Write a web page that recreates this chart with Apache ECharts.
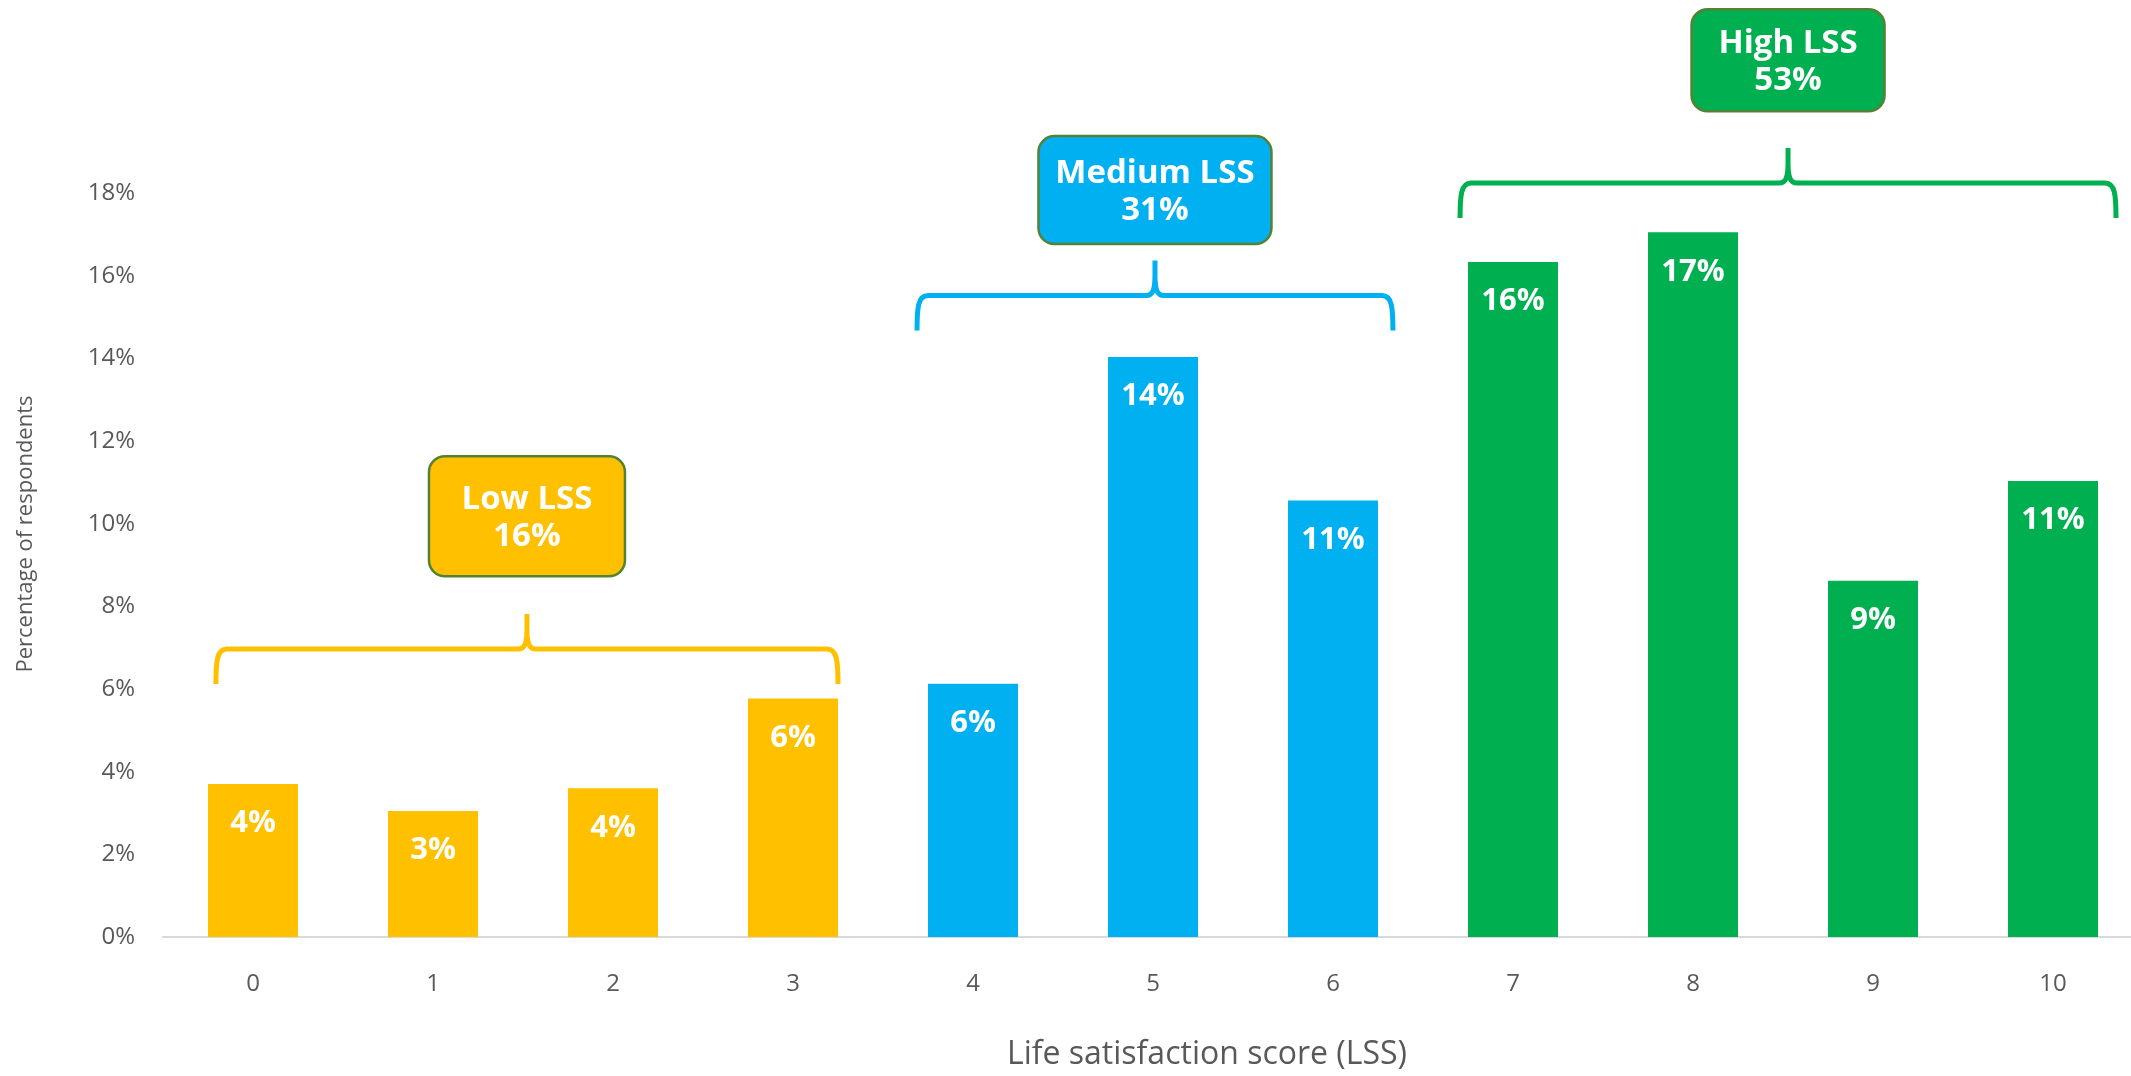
<!DOCTYPE html>
<html>
<head>
<meta charset="utf-8">
<script src="https://cdn.jsdelivr.net/npm/echarts@6/dist/echarts.min.js"></script>
<style>
html,body{margin:0;padding:0;background:#fff;overflow:hidden;}
#chart{width:2143px;height:1076px;}
</style>
</head>
<body>
<div id="chart"></div>
<script>
// ---- data ----
const categories = ['0','1','2','3','4','5','6','7','8','9','10'];
const values = [3.70, 3.05, 3.60, 5.77, 6.13, 14.03, 10.56, 16.33, 17.05, 8.62, 11.03];
const groupOfCategory = [0,0,0,0,1,1,1,2,2,2,2];
const groupNames = ['Low LSS', 'Medium LSS', 'High LSS'];
const groupShares = [16, 31, 53];
const groupStart = [0, 4, 7];
const groupEnd = [3, 6, 10];
const yTicks = [0, 2, 4, 6, 8, 10, 12, 14, 16, 18];

// ---- layout / styles (not data) ----
const groupColors = ['#FFC000', '#00B0F0', '#00B050'];
const layout = {
  braceLeft: [-0.206, -0.311, -0.294],
  braceRight: [0.25, 0.333, 0.35],
  braceLevel: [6.97, 15.52, 18.24],
  braceDrop: 35,
  braceRise: 35,
  boxLevel: [10.18, 18.07, 21.21],
  boxW: [196, 233, 193],
  boxH: [120, 108, 102]
};

const chart = echarts.init(document.getElementById('chart'), null, {renderer: 'canvas'});

const groupItems = groupNames.map((n, i) => [groupStart[i], groupEnd[i], i]);

const option = {
  backgroundColor: '#ffffff',
  animation: false,
  grid: {left: 163, top: 193, width: 1980, height: 746, containLabel: false},
  xAxis: {
    type: 'category',
    data: categories,
    axisLine: {show: true, lineStyle: {color: '#D9D9D9', width: 2}},
    axisTick: {show: false},
    axisLabel: {color: '#595959', fontFamily: 'Open Sans', fontSize: 24, margin: 35},
    name: 'Life satisfaction score (LSS)',
    nameLocation: 'middle',
    nameGap: 102,
    nameTextStyle: {color: '#595959', fontFamily: 'Open Sans', fontSize: 32, padding: [0, 0, 0, 108]}
  },
  yAxis: {
    type: 'value',
    min: yTicks[0],
    max: yTicks[yTicks.length - 1],
    interval: 2,
    splitLine: {show: false},
    axisLine: {show: false},
    axisTick: {show: false},
    axisLabel: {color: '#595959', fontFamily: 'Open Sans', fontSize: 24, margin: 28, formatter: '{value}%'},
    name: 'Percentage of respondents',
    nameLocation: 'middle',
    nameRotate: 90,
    nameGap: 126,
    nameTextStyle: {color: '#595959', fontFamily: 'Open Sans', fontSize: 22, padding: [0, 0, 0, 62]}
  },
  series: [
    {
      type: 'bar',
      barWidth: 90,
      data: values.map((v, i) => ({value: v, itemStyle: {color: groupColors[groupOfCategory[i]]}})),
      label: {
        show: true,
        position: 'insideTop',
        distance: 24,
        color: '#ffffff',
        fontFamily: 'Open Sans',
        fontWeight: 'bold',
        fontSize: 31,
        formatter: p => Math.round(p.value) + '%'
      }
    },
    {
      type: 'custom',
      clip: false,
      silent: true,
      data: groupItems,
      encode: {x: 0},
      renderItem: function (params, api) {
        const s = api.value(0), e = api.value(1), g = api.value(2);
        const step = api.size([1, 0])[0];
        const yH = api.coord([s, layout.braceLevel[g]])[1];
        const xL = api.coord([s, 0])[0] + layout.braceLeft[g] * step;
        const xR = api.coord([e, 0])[0] + layout.braceRight[g] * step;
        const xC = (xL + xR) / 2;
        const yEnd = yH + layout.braceDrop;
        const yTip = yH - layout.braceRise;
        const r = 11;
        const path =
          'M' + xL + ',' + yEnd +
          ' C' + xL + ',' + (yH + 12) + ' ' + (xL + 1) + ',' + yH + ' ' + (xL + r) + ',' + yH +
          ' L' + (xC - 9) + ',' + yH +
          ' C' + (xC - 2) + ',' + yH + ' ' + xC + ',' + (yH - 6) + ' ' + xC + ',' + (yH - 20) +
          ' L' + xC + ',' + yTip +
          ' M' + xC + ',' + (yH - 20) +
          ' C' + xC + ',' + (yH - 6) + ' ' + (xC + 2) + ',' + yH + ' ' + (xC + 9) + ',' + yH +
          ' L' + (xR - r) + ',' + yH +
          ' C' + (xR - 1) + ',' + yH + ' ' + xR + ',' + (yH + 12) + ' ' + xR + ',' + yEnd;
        const boxCY = api.coord([s, layout.boxLevel[g]])[1];
        const bw = layout.boxW[g], bh = layout.boxH[g];
        return {
          type: 'group',
          children: [
            {
              type: 'path',
              shape: {pathData: path},
              style: {fill: null, stroke: groupColors[g], lineWidth: 5}
            },
            {
              type: 'rect',
              shape: {x: xC - bw / 2, y: boxCY - bh / 2, width: bw, height: bh, r: 16},
              style: {fill: groupColors[g], stroke: '#548235', lineWidth: 2.5}
            },
            {
              type: 'text',
              x: xC,
              y: boxCY + 2,
              style: {
                text: groupNames[g] + '\n' + groupShares[g] + '%',
                fill: '#ffffff',
                font: 'bold 33px "Open Sans"',
                lineHeight: 37,
                align: 'center',
                verticalAlign: 'middle'
              }
            }
          ]
        };
      }
    }
  ]
};

chart.setOption(option);
</script>
</body>
</html>
